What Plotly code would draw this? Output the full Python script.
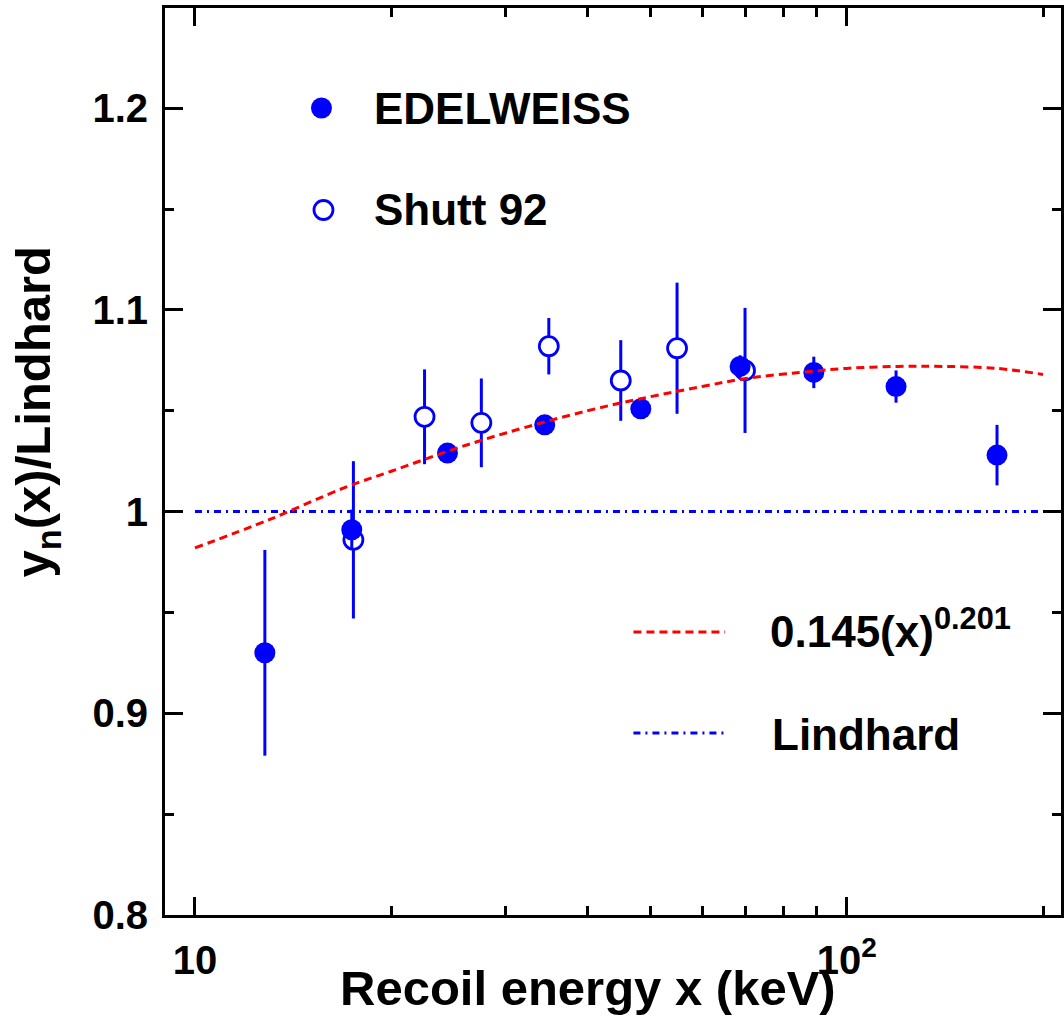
import plotly.graph_objects as go

# ---------------- data ----------------
edel_x = [12.8, 17.4, 24.4, 34.4, 48.3, 68.6, 89.0, 119.0, 170.0]
edel_y = [0.930, 0.991, 1.029, 1.043, 1.051, 1.072, 1.069, 1.062, 1.028]
edel_err = [0.051, 0.010, 0.004, 0.004, 0.004, 0.0055, 0.0078, 0.008, 0.015]

shutt_x = [17.5, 22.5, 27.5, 34.9, 45.0, 54.9, 69.8]
shutt_y = [0.986, 1.047, 1.044, 1.082, 1.065, 1.081, 1.070]
shutt_err = [0.039, 0.0235, 0.022, 0.014, 0.020, 0.0325, 0.031]

fit_x = [10, 13, 17, 20, 25, 30, 40, 50, 60, 70, 85, 100, 120, 140, 170, 200]
fit_y = [0.982, 0.996, 1.012, 1.020, 1.031, 1.039, 1.050, 1.057, 1.062, 1.066,
         1.069, 1.071, 1.072, 1.072, 1.071, 1.068]

lind_x = [10, 200]
lind_y = [1.0, 1.0]

x_tickvals = [10, 100]
x_ticktext = ["10", "10<sup>2</sup>"]
x_minor = [9, 20, 30, 40, 50, 60, 70, 80, 90, 200]
y_tickvals = [0.8, 0.9, 1.0, 1.1, 1.2]
y_ticktext = ["0.8", "0.9", "1", "1.1", "1.2"]
y_minor = [0.85, 0.95, 1.05, 1.15, 1.25]

BLUE = "#0000ff"
RED = "#ff0000"
FONT = "Liberation Sans"

# ---------------- layout geometry ----------------
W, H = 1064, 1030
L, R, T, B = 165, 0, 8, 115
PW = W - L - R
PH = H - T - B


def px(xpix):
    return (xpix - L) / PW


def py(ypix):
    return (T + PH - ypix) / PH


fig = go.Figure()

fig.add_trace(go.Scatter(
    x=shutt_x, y=shutt_y, mode="markers", name="Shutt 92", showlegend=False,
    error_y=dict(type="data", array=shutt_err, visible=True, color=BLUE,
                 thickness=3, width=0),
    marker=dict(symbol="circle", size=19, color="white",
                line=dict(color=BLUE, width=2.8)),
))
fig.add_trace(go.Scatter(
    x=edel_x, y=edel_y, mode="markers", name="EDELWEISS", showlegend=False,
    error_y=dict(type="data", array=edel_err, visible=True, color=BLUE,
                 thickness=3, width=0),
    marker=dict(symbol="circle", size=21, color=BLUE, line=dict(width=0)),
))
fig.add_trace(go.Scatter(
    x=lind_x, y=lind_y, mode="lines", name="Lindhard", showlegend=False,
    line=dict(color=BLUE, width=3, dash="7px,5px,2px,5px"),
))
fig.add_trace(go.Scatter(
    x=fit_x, y=fit_y, mode="lines", name="fit", showlegend=False,
    line=dict(color=RED, width=3, dash="8px,5px", shape="spline"),
))

tick_font = dict(family="Liberation Sans, Arial, sans-serif", size=40,
                 color="black", weight="bold")

axis_common = dict(
    showgrid=False, zeroline=False, showline=True, linecolor="black",
    linewidth=3, ticks="inside", tickcolor="black", tickwidth=2.5,
    ticklen=18, mirror="allticks",
)

fig.update_layout(
    width=W, height=H,
    margin=dict(l=L, r=R, t=T, b=B, pad=0),
    paper_bgcolor="white", plot_bgcolor="white",
    showlegend=False,
    xaxis=dict(
        type="log", range=[0.954, 0.954 + PW / 654.0],
        tickvals=x_tickvals, ticktext=x_ticktext,
        tickfont=tick_font,
        ticklabelstandoff=8,
        minor=dict(tickvals=x_minor, ticks="inside", ticklen=9,
                   tickwidth=2.5, tickcolor="black", showgrid=False),
        **axis_common,
    ),
    yaxis=dict(
        range=[0.8, 0.8 + PH / 2017.0],
        tickvals=y_tickvals, ticktext=y_ticktext,
        tickfont=tick_font,
        ticklabelstandoff=6,
        minor=dict(tickvals=y_minor, ticks="inside", ticklen=9,
                   tickwidth=2.5, tickcolor="black", showgrid=False),
        **axis_common,
    ),
)

shapes = []
# legend: markers
shapes.append(dict(type="circle", xref="paper", yref="paper",
                   xsizemode="pixel", ysizemode="pixel",
                   xanchor=px(322), yanchor=py(108),
                   x0=-10.5, x1=10.5, y0=-10.5, y1=10.5,
                   fillcolor=BLUE, line=dict(width=0)))
shapes.append(dict(type="circle", xref="paper", yref="paper",
                   xsizemode="pixel", ysizemode="pixel",
                   xanchor=px(324), yanchor=py(210),
                   x0=-9.5, x1=9.5, y0=-9.5, y1=9.5,
                   fillcolor="white", line=dict(width=2.8, color=BLUE)))
# legend: line samples
shapes.append(dict(type="line", xref="paper", yref="paper",
                   x0=px(635), x1=px(727), y0=py(632), y1=py(632),
                   line=dict(color=RED, width=3, dash="8px,5px")))
shapes.append(dict(type="line", xref="paper", yref="paper",
                   x0=px(635), x1=px(727), y0=py(733), y1=py(733),
                   line=dict(color=BLUE, width=3, dash="7px,5px,2px,5px")))
fig.update_layout(shapes=shapes)

leg_font = dict(family=FONT, size=44, color="black", weight="bold")
title_font = dict(family=FONT, size=49, color="black", weight="bold")
ann = [
    dict(text="EDELWEISS", x=px(373), y=py(108), xanchor="left", yanchor="middle",
         font=leg_font),
    dict(text="Shutt 92", x=px(373), y=py(210), xanchor="left", yanchor="middle",
         font=leg_font),
    dict(text="0.145(x)<sup>0.201</sup>", x=px(770), y=py(628), xanchor="left",
         yanchor="middle", font=leg_font),
    dict(text="Lindhard", x=px(772), y=py(734), xanchor="left", yanchor="middle",
         font=leg_font),
    dict(text="Recoil energy x (keV)", x=px(589), y=py(988), xanchor="center",
         yanchor="middle", font=title_font),
    dict(text="y<sub>n</sub>(x)/Lindhard", x=px(36), y=py(412), xanchor="center",
         yanchor="middle", textangle=-90, font=title_font),
]
for a in ann:
    a.update(xref="paper", yref="paper", showarrow=False)
fig.update_layout(annotations=ann)

fig.write_html("out.html")
